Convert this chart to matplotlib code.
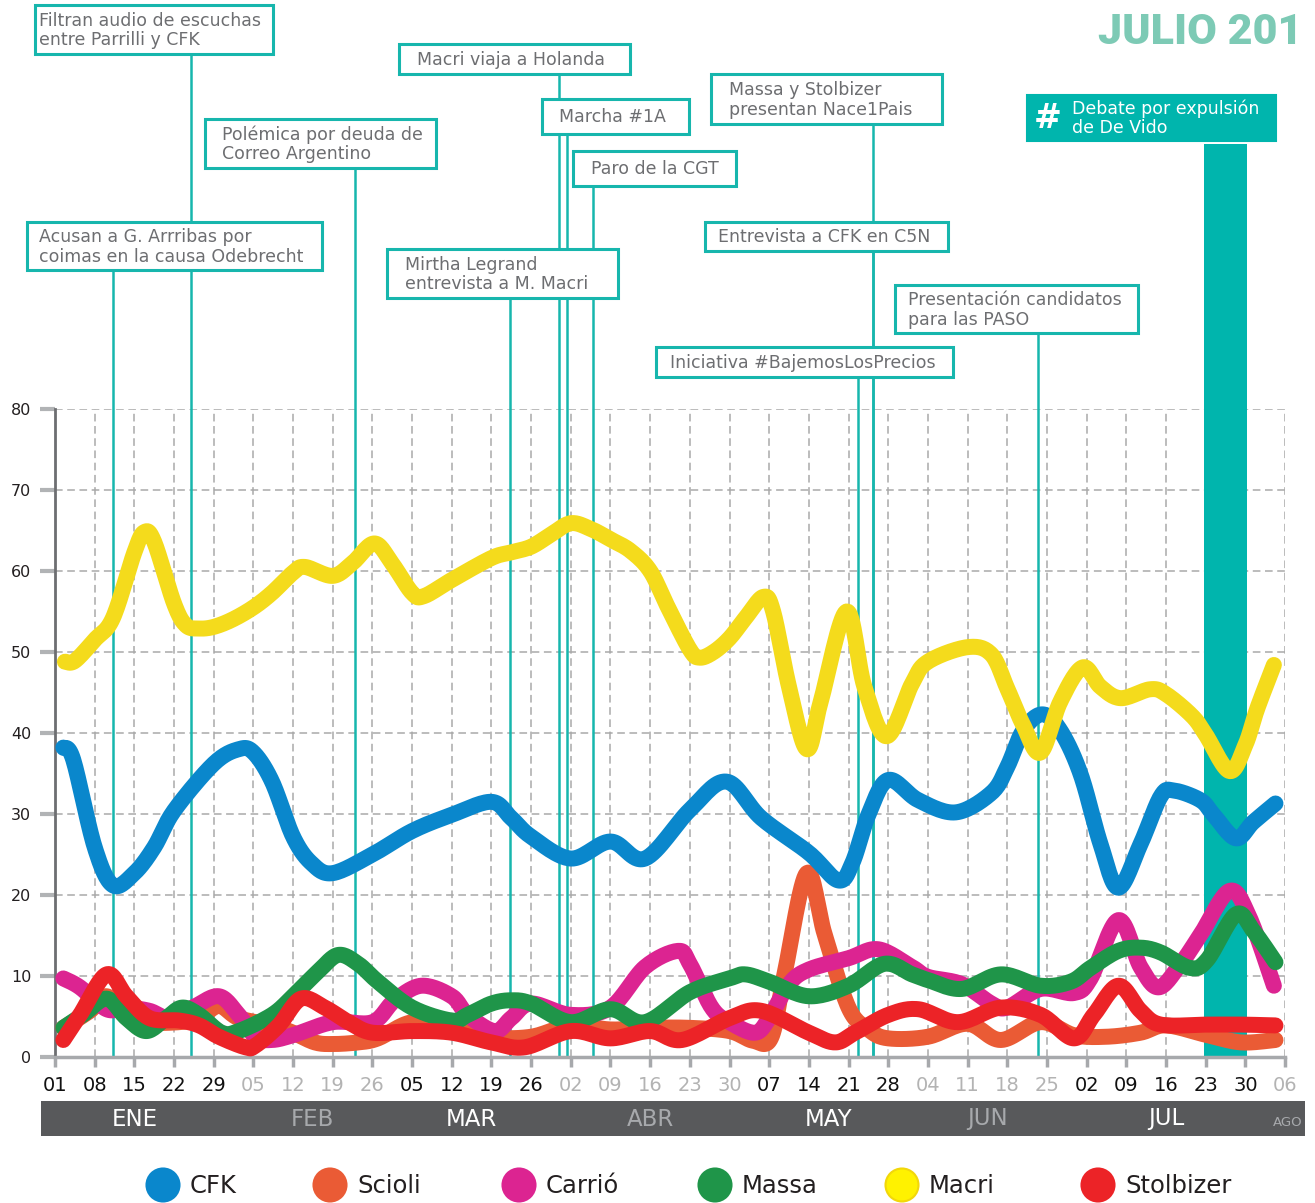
import numpy as np
import matplotlib
matplotlib.use('Agg')
import matplotlib.pyplot as plt
from matplotlib.patches import Rectangle, Circle
from matplotlib.transforms import blended_transform_factory

# semanas desde el 01/01 (0 = 01 ENE, 31 = 06 AGO)
week_labels = ['01', '08', '15', '22', '29', '05', '12', '19', '26', '05', '12', '19', '26',
               '02', '09', '16', '23', '30', '07', '14', '21', '28', '04', '11', '18', '25',
               '02', '09', '16', '23', '30', '06']
months = ['ENE', 'FEB', 'MAR', 'ABR', 'MAY', 'JUN', 'JUL', 'AGO']
month_ticks = [5, 4, 4, 5, 4, 4, 5, 1]

cfk_x = [0.21, 0.46, 1.0, 1.46, 2.0, 2.5, 3.0, 4.0, 4.63, 5.0, 5.47, 6.0, 6.47, 7.0, 8.0, 9.0,
         10.0, 11.0, 11.5, 12.0, 13.0, 14.0, 14.87, 16.0, 16.92, 17.8, 19.0, 19.74, 20.1, 20.5,
         21.0, 21.76, 22.7, 23.6, 24.0, 24.4, 24.88, 25.34, 25.85, 26.35, 26.8, 27.36, 27.87,
         28.2, 28.87, 29.2, 29.76, 30.2, 30.76]
cfk_y = [38.2, 36.7, 25.9, 21.2, 22.7, 25.9, 30.4, 36.2, 38.0, 37.6, 34.0, 27.2, 23.9, 22.7,
         25.0, 27.9, 29.9, 31.5, 29.5, 27.2, 24.5, 26.6, 24.5, 30.5, 34.0, 29.5, 25.2, 21.8,
         24.0, 29.9, 34.2, 31.7, 30.2, 32.6, 35.8, 40.3, 42.3, 40.3, 34.9, 26.3, 20.9, 26.3,
         32.2, 32.9, 31.7, 29.9, 27.0, 29.0, 31.3]

scioli_x = [0.21, 0.88, 1.3, 1.8, 2.38, 3.13, 3.63, 4.13, 4.63, 5.47, 6.0, 6.55, 7.0, 7.64,
            8.14, 9.0, 10.0, 11.0, 12.0, 13.0, 14.0, 15.0, 16.0, 17.0, 17.6, 18.05, 18.4,
            18.95, 19.4, 20.0, 20.5, 21.0, 22.0, 23.0, 23.84, 24.84, 25.68, 26.5, 27.36, 28.0,
            29.04, 29.9, 30.76]
scioli_y = [3.6, 5.7, 7.5, 5.2, 4.3, 4.3, 4.8, 6.3, 4.8, 3.9, 3.0, 1.8, 1.6, 1.8, 2.3, 4.3,
            3.9, 2.5, 2.5, 3.9, 3.4, 3.6, 3.6, 3.2, 2.0, 2.4, 10.6, 22.7, 15.1, 6.1, 3.4, 2.3,
            2.5, 4.1, 2.1, 4.3, 2.7, 2.5, 3.0, 3.9, 2.7, 1.8, 2.1]

carrio_x = [0.21, 0.63, 1.3, 1.8, 2.38, 2.88, 3.47, 4.13, 4.63, 5.05, 5.47, 6.0, 7.0, 8.0,
            8.56, 9.24, 10.0, 10.4, 11.08, 11.5, 12.0, 13.0, 14.0, 14.87, 15.7, 16.0, 16.55,
            17.0, 17.64, 18.0, 18.5, 19.0, 20.0, 20.75, 21.6, 22.0, 22.85, 23.6, 24.0, 24.84,
            25.68, 26.1, 26.8, 27.36, 27.82, 28.37, 28.87, 29.6, 30.1, 30.72]
carrio_y = [9.7, 8.6, 5.9, 6.1, 5.7, 4.8, 6.1, 7.5, 5.2, 2.5, 2.1, 2.7, 4.3, 4.3, 7.0, 8.8,
            7.5, 5.2, 3.2, 4.8, 6.6, 5.2, 6.1, 11.1, 13.1, 11.5, 6.1, 4.3, 3.0, 4.8, 9.0, 10.8,
            12.2, 13.3, 11.1, 9.9, 9.0, 6.6, 6.1, 8.4, 7.9, 9.7, 16.9, 11.1, 8.6, 11.5, 15.1,
            20.5, 17.3, 8.8]

massa_x = [0.21, 0.7, 1.3, 1.8, 2.3, 2.8, 3.2, 3.63, 4.2, 4.63, 5.47, 6.0, 6.64, 7.14, 7.64,
           8.14, 9.0, 10.0, 10.4, 11.0, 11.5, 12.0, 13.0, 14.0, 14.87, 16.0, 17.0, 17.4, 18.0,
           19.0, 20.0, 20.9, 21.6, 22.0, 22.85, 23.84, 24.84, 25.6, 26.1, 26.8, 27.36, 27.87,
           28.6, 29.04, 29.76, 30.2, 30.76]
massa_y = [3.6, 5.2, 7.2, 4.8, 3.2, 4.8, 6.1, 5.2, 3.0, 3.2, 5.2, 7.5, 10.6, 12.6, 11.5, 9.3,
           6.1, 4.5, 5.2, 6.6, 7.0, 6.6, 4.3, 5.9, 4.3, 8.0, 9.7, 10.2, 9.3, 7.5, 8.8, 11.5,
           10.2, 9.5, 8.4, 10.2, 8.8, 9.3, 11.0, 13.1, 13.5, 12.9, 11.0, 12.0, 17.6, 15.6, 11.7]

macri_x = [0.25, 0.5, 1.0, 1.46, 2.0, 2.25, 2.5, 3.0, 3.3, 3.63, 4.0, 4.47, 5.0, 5.47, 6.0,
           6.3, 7.0, 7.5, 8.05, 8.5, 9.0, 9.3, 10.0, 11.0, 11.5, 12.0, 12.5, 13.0, 13.5, 14.0,
           14.5, 15.0, 15.45, 16.0, 16.25, 16.6, 17.0, 17.4, 17.85, 18.1, 18.5, 18.95, 19.3,
           19.95, 20.4, 20.96, 21.6, 22.0, 23.0, 23.6, 24.0, 24.4, 24.84, 25.34, 25.9, 26.35,
           26.86, 27.6, 28.0, 28.66, 29.0, 29.6, 30.0, 30.3, 30.72]
macri_y = [48.8, 48.9, 51.5, 54.2, 62.3, 64.8, 63.6, 56.0, 53.3, 52.9, 53.1, 54.0, 55.5, 57.3,
           59.8, 60.5, 59.4, 61.0, 63.4, 60.9, 57.3, 56.9, 58.9, 61.6, 62.3, 63.0, 64.5, 65.9,
           65.2, 63.9, 62.5, 60.0, 55.5, 50.3, 49.3, 50.0, 51.7, 54.2, 56.8, 55.0, 45.7, 38.0,
           43.9, 55.0, 45.7, 39.6, 46.1, 48.8, 50.6, 49.7, 45.5, 41.0, 37.6, 43.9, 48.1, 45.7,
           44.3, 45.4, 44.8, 42.1, 39.8, 35.3, 38.5, 43.0, 48.4]

stolb_x = [0.21, 0.63, 1.3, 1.8, 2.38, 3.13, 3.63, 4.13, 4.8, 5.05, 5.64, 6.2, 6.8, 7.4, 8.0,
           9.0, 10.0, 11.0, 11.84, 13.0, 14.0, 15.0, 15.8, 17.0, 17.8, 19.0, 19.66, 20.16,
           21.0, 21.76, 22.76, 23.84, 24.84, 25.68, 26.18, 26.8, 27.36, 27.87, 29.04, 29.9,
           30.76]
stolb_y = [2.1, 5.2, 10.2, 7.5, 4.8, 4.5, 3.9, 2.5, 1.2, 1.4, 3.9, 7.2, 6.1, 4.3, 3.0, 3.2,
           3.0, 1.8, 1.2, 3.2, 2.3, 3.2, 2.1, 4.8, 5.7, 3.0, 1.8, 3.0, 5.2, 5.9, 4.3, 6.1, 5.2,
           2.3, 5.2, 8.8, 5.7, 4.0, 4.0, 4.0, 3.9]

# eventos (semana en la que ocurren)
event_labels = ['Acusan a G. Arrribas por\ncoimas en la causa Odebrecht',
                'Filtran audio de escuchas\nentre Parrilli y CFK',
                'Polémica por deuda de\nCorreo Argentino',
                'Mirtha Legrand\nentrevista a M. Macri',
                'Macri viaja a Holanda',
                'Marcha #1A',
                'Paro de la CGT',
                'Massa y Stolbizer\npresentan Nace1Pais',
                'Entrevista a CFK en C5N',
                'Iniciativa #BajemosLosPrecios',
                'Presentación candidatos\npara las PASO']
event_weeks = [1.46, 3.43, 7.56, 11.47, 12.70, 12.90, 13.56, 20.62, 20.62, 20.24, 24.77]
debate_label = 'Debate por expulsión\nde De Vido'
debate_weeks = (28.96, 30.04)

# cajas de los eventos en pixeles: x0, y0, x1, y1, margen de texto
boxes = [(27, 222, 322, 270, 12), (35, 5, 273, 54, 4), (205, 119, 436, 168, 17),
         (387, 249, 618, 298, 18), (399, 44, 630, 74, 18), (542, 99, 689, 134, 17),
         (573, 151, 736, 186, 18), (711, 74, 942, 124, 18), (705, 222, 948, 251, 13),
         (656, 347, 953, 377, 14), (895, 285, 1138, 333, 13)]

W, H = 1315, 1203
TEAL = '#17b6ad'
GRAY_TXT = '#6d6e71'


def smooth(x, y, n=16):
    pts = np.column_stack([x, y]).astype(float)
    p = np.vstack([pts[0], pts, pts[-1]])
    t = np.linspace(0, 1, n, endpoint=False)[:, None]
    out = []
    for i in range(1, len(p) - 2):
        p0, p1, p2, p3 = p[i - 1], p[i], p[i + 1], p[i + 2]
        out.append(0.5 * (2 * p1 + (p2 - p0) * t + (2 * p0 - 5 * p1 + 4 * p2 - p3) * t ** 2
                          + (-p0 + 3 * p1 - 3 * p2 + p3) * t ** 3))
    out.append(pts[-1:])
    s = np.vstack(out)
    return s[:, 0], s[:, 1]


fig = plt.figure(figsize=(W / 100, H / 100), dpi=100)
ax = fig.add_axes([55 / W, 1 - 1057 / H, 1230 / W, 648 / H], zorder=1)
ax.patch.set_alpha(0)
over = fig.add_axes([0, 0, 1, 1], zorder=2)
over.set_xlim(0, W)
over.set_ylim(H, 0)
over.axis('off')
over.patch.set_alpha(0)

ax.set_xlim(0, 31)
ax.set_ylim(0, 80)
ax.set_xticks(range(32))
ax.set_xticklabels(week_labels)
ax.set_yticks(range(0, 81, 10))
ax.grid(True, color='#a9a9a9', lw=1.1, ls=(0, (5, 3)))
ax.set_axisbelow(True)
for s in ['top', 'right']:
    ax.spines[s].set_visible(False)
ax.spines['left'].set_color('#6d6e71')
ax.spines['left'].set_linewidth(2)
ax.spines['bottom'].set_color('#a7a9ac')
ax.spines['bottom'].set_linewidth(2.5)
ax.tick_params(axis='y', length=11, width=3, color='#b1b3b5', pad=6, labelsize=11.5,
               labelcolor='#231f20')
ax.tick_params(axis='x', length=7, width=2.5, color='#a7a9ac', pad=7, labelsize=14)

tick_colors = []
for i, n in enumerate(month_ticks):
    tick_colors += [('#111111' if i % 2 == 0 else '#b3b3b3')] * n
for lbl, c in zip(ax.get_xticklabels(), tick_colors):
    lbl.set_color(c)

trans = blended_transform_factory(ax.transData, over.transData)

# lineas de eventos y franja del debate
for w, b in zip(event_weeks, boxes):
    ax.plot([w, w], [b[3], 1057], transform=trans, color=TEAL, lw=1.8, clip_on=False, zorder=1)
ax.add_patch(Rectangle((debate_weeks[0], 144), debate_weeks[1] - debate_weeks[0], 1057 - 144,
                       transform=trans, color='#00b5ad', lw=0, clip_on=False, zorder=1))

series = [
    ('CFK', cfk_x, cfk_y, '#0a87cc'),
    ('Scioli', scioli_x, scioli_y, '#ea5b35'),
    ('Carrió', carrio_x, carrio_y, '#dc2491'),
    ('Massa', massa_x, massa_y, '#1f9549'),
    ('Macri', macri_x, macri_y, '#f4db1c'),
    ('Stolbizer', stolb_x, stolb_y, '#ec2327'),
]
draw_order = ['Scioli', 'Carrió', 'Massa', 'CFK', 'Macri', 'Stolbizer']
for name, xs, ys, col in series:
    sx, sy = smooth(xs, ys)
    ax.plot(sx, sy, color=col, lw=11.5, solid_capstyle='round', solid_joinstyle='round',
            clip_on=False, zorder=3 + draw_order.index(name))

# cajas de eventos
for lab, (x0, y0, x1, y1, pad) in zip(event_labels, boxes):
    over.add_patch(Rectangle((x0, y0), x1 - x0, y1 - y0, fc='white', ec=TEAL, lw=2.2, zorder=3))
    over.text(x0 + pad, (y0 + y1) / 2 + 1, lab, ha='left', va='center', fontsize=12.5,
              color=GRAY_TXT, linespacing=1.08, zorder=4)

over.add_patch(Rectangle((1027, 95), 249, 46, fc='#00b5ad', ec='#00b5ad', lw=1.5, zorder=3))
over.text(1048, 118, '#', ha='center', va='center', fontsize=24, fontweight='bold',
          color='white', zorder=4)
over.text(1072, 118, debate_label, ha='left', va='center', fontsize=12.5, color='white',
          linespacing=1.08, zorder=4)

over.text(1098, 33, 'JULIO 201', ha='left', va='center', fontsize=31, fontweight='heavy',
          family='Roboto', color='#7dcab5')

# barra de meses
over.add_patch(Rectangle((41, 1101), 1264, 35, fc='#58595b', lw=0))
start = 0
for i, (m, n) in enumerate(zip(months, month_ticks)):
    mid = start + (n - 1) / 2
    col = 'white' if i % 2 == 0 else '#a7a9ac'
    if m == 'AGO':
        over.text(mid + 0.08, 1122, m, transform=trans, ha='center', va='center',
                  fontsize=9.5, color=col)
    else:
        over.text(mid, 1119, m, transform=trans, ha='center', va='center', fontsize=16.5,
                  color=col)
    start += n

# leyenda
legend_cx = [163, 330, 519, 715, 902, 1098]
for (name, xs, ys, col), cx in zip(series, legend_cx):
    fc = '#fff200' if name == 'Macri' else col
    ec = '#f2d70a' if name == 'Macri' else col
    over.add_patch(Circle((cx, 1185), 16.5, fc=fc, ec=ec, lw=1.5))
    over.text(cx + 27, 1186, name, ha='left', va='center', fontsize=17.5, color='#231f20')

fig.savefig('out.png', dpi=100)
